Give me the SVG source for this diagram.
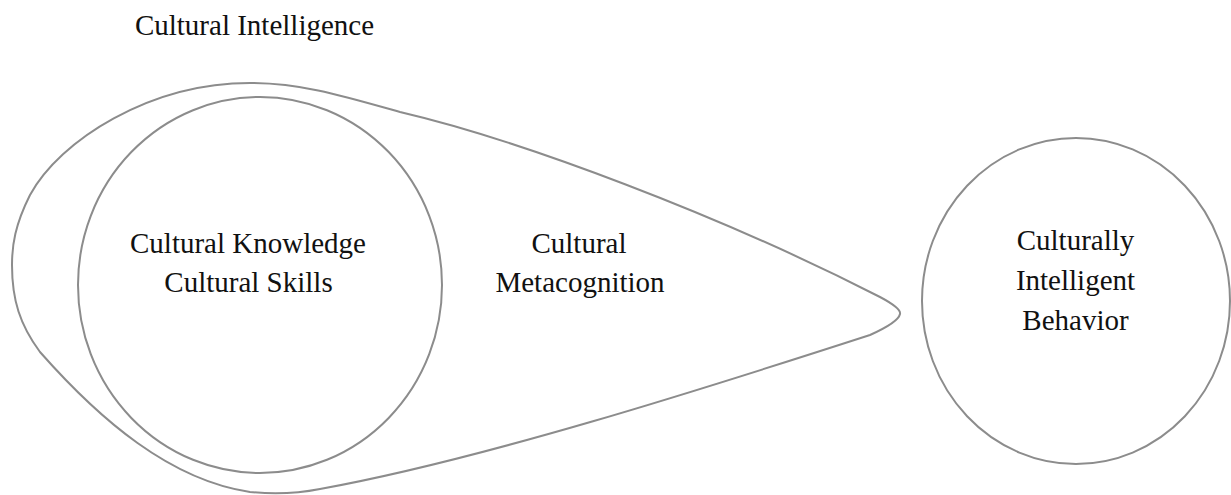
<svg xmlns="http://www.w3.org/2000/svg" width="1231" height="495" viewBox="0 0 1231 495">
  <style>
    .shape { fill: none; stroke: #8c8c8c; stroke-width: 2; }
    .lbl { font-size: 29px; fill: #111; text-anchor: middle; }
  </style>
  <rect width="1231" height="495" fill="#ffffff"/>
  <g font-family="'Liberation Serif', 'DejaVu Serif', serif">
    <g id="title">
      <text class="lbl" x="254.5" y="35">Cultural Intelligence</text>
    </g>
    <g id="cultural-intelligence">
      <path class="shape" d="M 250,83 C 300,83 340,95 400,112 C 520,140 720,215 880,297 C 895,305 901,310 900,314 C 899,319 890,326 870,335 C 700,390 480,460 320,489 C 300,493 280,495 250,492 C 170,480 100,420 40,352 C 20,325 12,300 12,265 C 12,245 15,225 30,195 C 60,140 150,83 250,83 Z"/>
      <text class="lbl" x="579" y="253">Cultural</text>
      <text class="lbl" x="580" y="292">Metacognition</text>
    </g>
    <g id="knowledge-skills">
      <ellipse class="shape" cx="260" cy="285" rx="182" ry="188"/>
      <text class="lbl" x="248" y="253">Cultural Knowledge</text>
      <text class="lbl" x="248.5" y="292">Cultural Skills</text>
    </g>
    <g id="behavior">
      <ellipse class="shape" cx="1076" cy="301" rx="154" ry="163"/>
      <text class="lbl" x="1075.5" y="250">Culturally</text>
      <text class="lbl" x="1075.5" y="290">Intelligent</text>
      <text class="lbl" x="1075.5" y="330">Behavior</text>
    </g>
    <g id="connectors"/>
  </g>
</svg>
